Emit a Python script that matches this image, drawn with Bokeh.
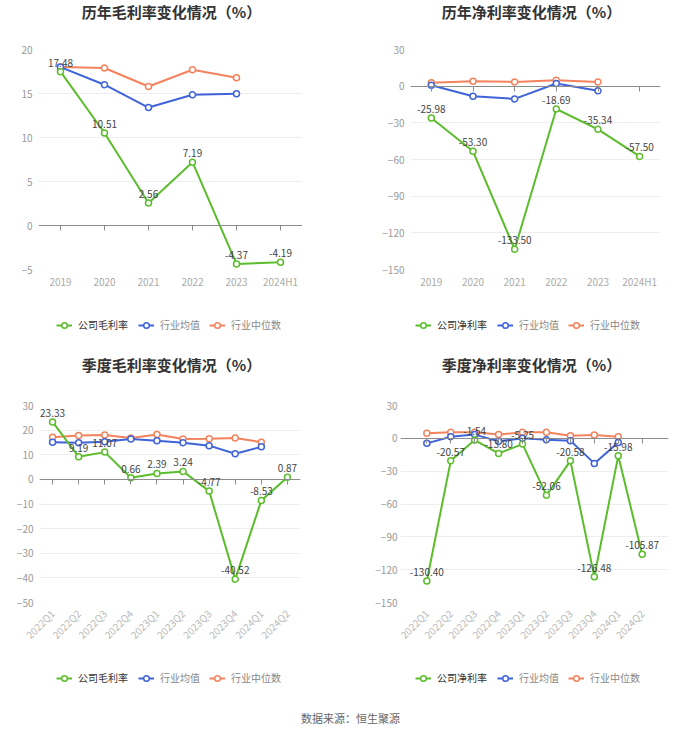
import math
from bokeh.plotting import figure
from bokeh.layouts import column, row
from bokeh.models import (ColumnDataSource, LabelSet, Legend, LegendItem, CategoricalAxis,
                          FixedTicker, Range1d, Label, FactorRange)
from bokeh.core.properties import value
from bokeh.embed import file_html
from bokeh.resources import INLINE

FONT = "Noto Sans CJK SC"
GREEN = "#5bbd2b"
BLUE = "#3f63d9"
ORANGE = "#f3825d"

# ---------------- data ----------------
years = ["2019", "2020", "2021", "2022", "2023", "2024H1"]
year_gross_company = [17.48, 10.51, 2.56, 7.19, -4.37, -4.19]
year_gross_mean = [18.0, 16.0, 13.4, 14.85, 14.96]
year_gross_median = [18.0, 17.9, 15.8, 17.7, 16.8]

year_net_company = [-25.98, -53.30, -133.50, -18.69, -35.34, -57.50]
year_net_mean = [0.8, -8.2, -10.4, 2.2, -3.8]
year_net_median = [2.7, 4.1, 3.5, 4.9, 3.5]

quarters = ["2022Q1", "2022Q2", "2022Q3", "2022Q4", "2023Q1",
            "2023Q2", "2023Q3", "2023Q4", "2024Q1", "2024Q2"]
q_gross_company = [23.33, 9.19, 11.07, 0.66, 2.39, 3.24, -4.77, -40.52, -8.53, 0.87]
q_gross_mean = [15.1, 14.9, 15.3, 16.4, 15.7, 14.9, 13.7, 10.4, 13.2]
q_gross_median = [17.1, 17.8, 18.0, 16.8, 18.2, 16.4, 16.5, 16.8, 15.1]

q_net_company = [-130.40, -20.57, -1.54, -13.80, -5.25, -52.06, -20.58, -126.48, -15.98, -105.87]
q_net_mean = [-4.6, 1.5, 3.4, -2.7, 0.0, -1.2, -2.1, -22.9, -3.7]
q_net_median = [4.6, 5.5, 5.5, 3.4, 5.5, 5.5, 2.4, 3.0, 1.5]

series_names_gross = ["公司毛利率", "行业均值", "行业中位数"]
series_names_net = ["公司净利率", "行业均值", "行业中位数"]
source_text = "数据来源：恒生聚源"


def blank(width, height, x_range=None, y_range=None, bl=0, br=0):
    f = figure(width=width, height=height, output_backend="svg", toolbar_location=None,
               min_border=0, min_border_left=bl, min_border_right=br,
               x_range=x_range if x_range is not None else Range1d(0, 1),
               y_range=y_range if y_range is not None else Range1d(0, 1))
    f.axis.visible = False
    f.grid.visible = False
    f.outline_line_color = None
    f.background_fill_color = "white"
    f.border_fill_color = "white"
    return f


def style_legend(legend, color):
    legend.orientation = "horizontal"
    legend.glyph_width = 16
    legend.glyph_height = 14
    legend.label_text_font = FONT
    legend.label_text_font_size = "10px"
    legend.label_text_color = color
    legend.label_standoff = 6
    legend.spacing = 9
    legend.padding = 0
    legend.margin = 0
    legend.border_line_color = None
    legend.background_fill_alpha = 0
    legend.label_height = 14


def make_panel(title, cats, comp, mean, median, names, ystart, yend, ystep,
               bl, br, title_h, title_cx, title_y, main_h, bt, bb, leg_h, leg_x, leg_y,
               rotate, xpad=0.0, ystandoff=6):
    W = 350
    # ---- title strip (frame spans same columns as the main plot frame) ----
    t = blank(W, title_h, bl=bl, br=br)
    t.add_layout(Label(x=title_cx - bl, y=title_y, x_units="screen", y_units="screen", text=title,
                       text_align="center", text_baseline="middle", text_font=FONT,
                       text_font_size="15px", text_font_style="bold", text_color="#333333"))

    # ---- main plot ----
    xr = FactorRange(factors=cats, range_padding=xpad, range_padding_units="absolute")
    p = figure(x_range=xr, y_range=Range1d(ystart, yend), width=W, height=main_h,
               output_backend="svg", toolbar_location=None,
               min_border_left=bl, min_border_right=br, min_border_top=bt, min_border_bottom=bb)
    p.outline_line_color = None
    p.background_fill_color = "white"
    p.border_fill_color = "white"

    p.yaxis.ticker = FixedTicker(ticks=list(range(ystart, yend + 1, ystep)))
    p.yaxis.axis_line_color = None
    p.yaxis.major_tick_line_color = None
    p.yaxis.major_tick_out = 0
    p.yaxis.major_tick_in = 0
    p.yaxis.minor_tick_line_color = None
    p.yaxis.major_label_text_color = "#999999"
    p.yaxis.major_label_text_font = FONT
    p.yaxis.major_label_text_font_size = "10px"
    p.yaxis.major_label_standoff = ystandoff
    p.ygrid.grid_line_color = "#eeeeee"
    p.xgrid.grid_line_color = None

    p.xaxis.axis_line_color = None
    p.xaxis.major_tick_line_color = None
    p.xaxis.major_tick_out = 0
    p.xaxis.major_tick_in = 0
    p.xaxis.major_label_text_color = "#aaaaaa"
    p.xaxis.major_label_text_font = FONT
    p.xaxis.major_label_text_font_size = "10px"
    p.xaxis.major_label_standoff = 4
    if rotate:
        p.xaxis.major_label_orientation = math.pi / 4
        p.xaxis.major_label_standoff = 9
        p.xaxis.major_label_text_color = "#bbbbbb"

    z = CategoricalAxis(fixed_location=0)
    z.axis_line_color = "#8c8c8c"
    z.major_tick_line_color = "#8c8c8c"
    z.major_tick_out = 5
    z.major_tick_in = 0
    z.major_label_text_alpha = 0
    z.major_label_text_font_size = "1px"
    p.add_layout(z, "below")

    src_c = ColumnDataSource(dict(x=cats[:len(comp)], y=comp, lbl=["%.2f" % v for v in comp]))
    src_m = ColumnDataSource(dict(x=cats[:len(mean)], y=mean))
    src_d = ColumnDataSource(dict(x=cats[:len(median)], y=median))

    def draw(fig, src, color):
        l = fig.line("x", "y", source=src, color=color, line_width=2)
        s = fig.scatter("x", "y", source=src, marker="circle", size=6, fill_color="white",
                        line_color=color, line_width=1.5)
        return l, s

    draw(p, src_d, ORANGE)
    draw(p, src_m, BLUE)
    draw(p, src_c, GREEN)

    p.add_layout(LabelSet(x="x", y="y", text="lbl", source=src_c, y_offset=5,
                          text_align="center", text_baseline="bottom",
                          text_font=value(FONT), text_font_size="10px", text_color="#444444"))

    # ---- legend strip (same series, drawn outside its visible range) ----
    lg = blank(W, leg_h, x_range=cats, y_range=Range1d(1000, 1001), bl=bl, br=br)
    lc = draw(lg, src_c, GREEN)
    lm = draw(lg, src_m, BLUE)
    ld = draw(lg, src_d, ORANGE)
    leg1 = Legend(items=[LegendItem(label=names[0], renderers=list(lc))],
                  location=(leg_x - bl, leg_y))
    style_legend(leg1, "#333333")
    leg2 = Legend(items=[LegendItem(label=names[1], renderers=list(lm)),
                         LegendItem(label=names[2], renderers=list(ld))],
                  location=(leg_x - bl + 82, leg_y))
    style_legend(leg2, "#888888")
    lg.add_layout(leg1)
    lg.add_layout(leg2)

    return column(t, p, lg)


p1 = make_panel("历年毛利率变化情况（%）", years, year_gross_company, year_gross_mean,
                year_gross_median, series_names_gross, -5, 20, 5,
                38, 48, 30, 171, 19, 280, 19, 41, 40, 56, 18, False)
p2 = make_panel("历年净利率变化情况（%）", years, year_net_company, year_net_mean,
                year_net_median, series_names_net, -150, 30, 30,
                60, 40, 30, 181, 19, 280, 19, 41, 40, 65, 18, False)
p3 = make_panel("季度毛利率变化情况（%）", quarters, q_gross_company, q_gross_mean,
                q_gross_median, series_names_gross, -50, 30, 10,
                39, 50, 30, 171, 16, 280, 25, 58, 40, 56, 15, True)
p4 = make_panel("季度净利率变化情况（%）", quarters, q_net_company, q_net_mean,
                q_net_median, series_names_net, -150, 30, 30,
                50, 32, 30, 181, 16, 280, 25, 58, 40, 65, 15, True,
                xpad=0.6, ystandoff=3)

foot = blank(700, 30)
foot.add_layout(Label(x=350, y=13, x_units="screen", y_units="screen", text=source_text,
                      text_align="center", text_baseline="middle", text_font=FONT,
                      text_font_size="11px", text_color="#666666"))

layout = column(row(p1, p2), row(p3, p4), foot)

open("out.html", "w").write(file_html(layout, INLINE))
